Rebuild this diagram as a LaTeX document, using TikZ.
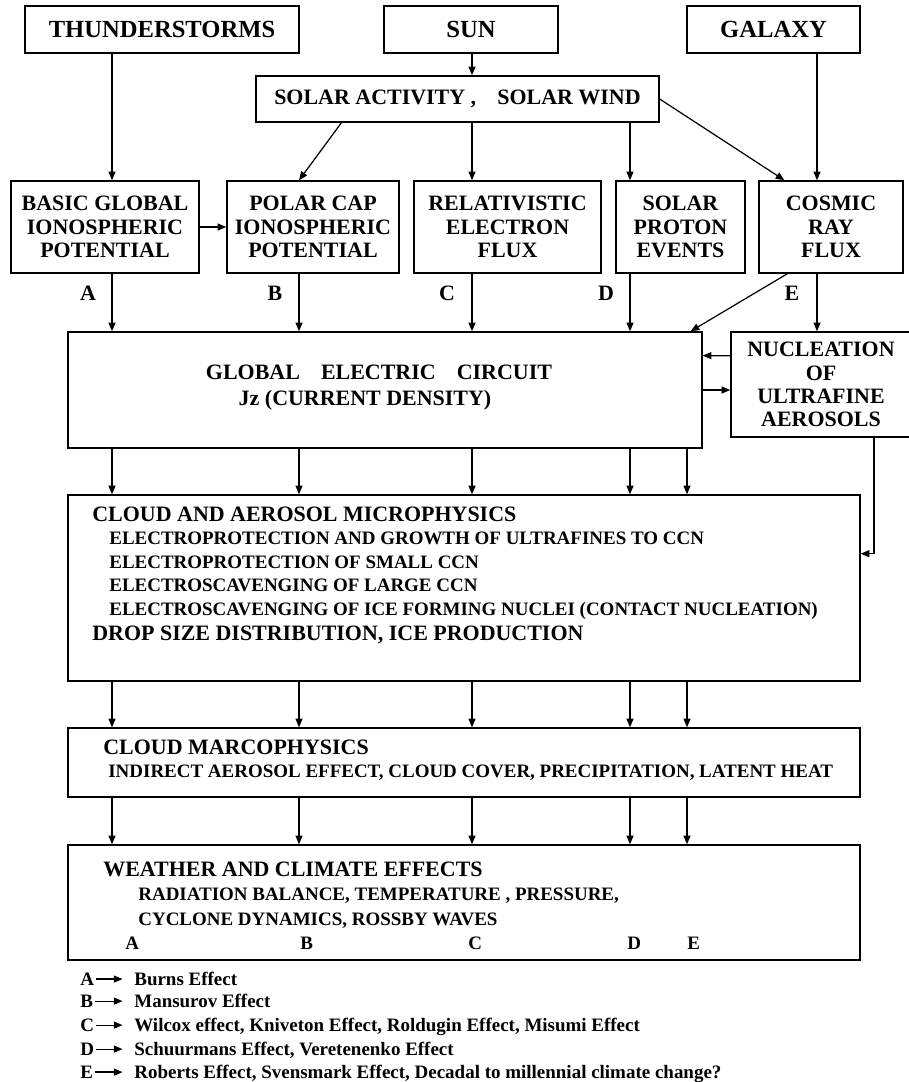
\documentclass[tikz,border=0pt]{standalone}
\usepackage{fontspec}
\setmainfont{Liberation Serif}
\usetikzlibrary{calc, arrows.meta, positioning}

\newcommand{\topfont}{\fontsize{14}{16}\selectfont\bfseries}
\newcommand{\boxfont}{\fontsize{12.5}{13.2}\selectfont\bfseries}
\newcommand{\subfont}{\fontsize{10.8}{12}\selectfont\bfseries}

\tikzset{
  box/.style={draw, line width=0.8pt, inner sep=0pt, align=center, font=\boxfont},
  arr/.style={-{Triangle[length=5pt,width=4pt]}, line width=0.7pt},
  head/.style={anchor=base west, inner sep=0pt, font=\boxfont},
  sub/.style={anchor=base west, inner sep=0pt, font=\subfont},
  letter/.style={inner sep=0pt, font=\boxfont},
  legletter/.style={anchor=base west, inner sep=0pt, font=\subfont},
  legtext/.style={anchor=base west, inner sep=0pt, font=\subfont}
}

\begin{document}
\begin{tikzpicture}[x=0.02cm, y=-0.02cm]
\useasboundingbox (0,0) rectangle (909,1082);

% columns of the arrows
\coordinate (colA) at (112,0);
\coordinate (colB) at (299,0);
\coordinate (colC) at (472,0);
\coordinate (colD) at (630,0);
\coordinate (colE) at (687,0);
\coordinate (colG) at (817,0);
\coordinate (colN) at (874,0);

% sources
\node[box, font=\topfont, minimum width=5.48cm, minimum height=0.94cm] (thunder) at (162,29.5) {THUNDERSTORMS};
\node[box, font=\topfont, minimum width=3.48cm, minimum height=0.94cm] (sun) at (471,29.5) {SUN};
\node[box, font=\topfont, minimum width=3.46cm, minimum height=0.94cm] (galaxy) at (773.5,29.5) {GALAXY};
\node[box, minimum width=8.06cm, minimum height=0.92cm] (solar) at (457.5,99) {SOLAR ACTIVITY ,\hspace{12pt}SOLAR WIND};

% second row
\node[box, minimum width=3.76cm, minimum height=1.84cm] (basic) at (105,227) {BASIC GLOBAL\\IONOSPHERIC\\POTENTIAL};
\node[box, minimum width=3.44cm, minimum height=1.84cm] (polar) at (313,227) {POLAR CAP\\IONOSPHERIC\\POTENTIAL};
\node[box, minimum width=3.74cm, minimum height=1.84cm] (rel) at (507.5,227) {RELATIVISTIC\\ELECTRON\\FLUX};
\node[box, minimum width=2.58cm, minimum height=1.84cm] (proton) at (680.5,227) {SOLAR\\PROTON\\EVENTS};
\node[box, minimum width=2.88cm, minimum height=1.84cm] (cosmic) at (831,227) {COSMIC\\RAY\\FLUX};

\node[letter] (lA) at (88,293) {A};
\node[letter] (lB) at (275,293) {B};
\node[letter] (lC) at (447,293) {C};
\node[letter] (lD) at (606,293) {D};
\node[letter] (lE) at (792,293) {E};

% circuit
\node[box, minimum width=12.68cm, minimum height=2.32cm] (gec) at (385,390) {};
\node[letter] (gectop) at (379,372) {GLOBAL\hspace{12pt}ELECTRIC\hspace{12pt}CIRCUIT};
\node[letter] (gecbot) at (365,400) {Jz (CURRENT DENSITY)};
\node[box, minimum width=3.6cm, minimum height=2.1cm] (nucl) at (821,384.5) {NUCLEATION\\OF\\ULTRAFINE\\AEROSOLS};

% microphysics
\node[box, minimum width=15.84cm, minimum height=3.72cm] (cloud) at (464,588) {};
\node[head] (cloudhd) at (92,521.3) {CLOUD AND AEROSOL MICROPHYSICS};
\node[sub] (cloud1) at (109,544.3) {ELECTROPROTECTION AND GROWTH OF ULTRAFINES TO CCN};
\node[sub] (cloud2) at (109,568.3) {ELECTROPROTECTION OF SMALL CCN};
\node[sub] (cloud3) at (109,591.3) {ELECTROSCAVENGING OF LARGE CCN};
\node[sub] (cloud4) at (109,615.3) {ELECTROSCAVENGING OF ICE FORMING NUCLEI (CONTACT NUCLEATION)};
\node[head] (drop) at (92,640.3) {DROP SIZE DISTRIBUTION, ICE PRODUCTION};

% macrophysics
\node[box, minimum width=15.84cm, minimum height=1.38cm] (macro) at (464,762.5) {};
\node[head] (macrohd) at (103,754.3) {CLOUD MARCOPHYSICS};
\node[sub] (macro1) at (108,777.3) {INDIRECT AEROSOL EFFECT, CLOUD COVER, PRECIPITATION, LATENT HEAT};

% weather
\node[box, minimum width=15.84cm, minimum height=2.30cm] (weather) at (464,902.5) {};
\node[head] (weatherhd) at (103,876.3) {WEATHER AND CLIMATE EFFECTS};
\node[sub] (weather1) at (138,900.3) {RADIATION BALANCE, TEMPERATURE , PRESSURE,};
\node[sub] (weather2) at (138,925.3) {CYCLONE DYNAMICS, ROSSBY WAVES};
\node[sub] (wA) at (125,949) {A};
\node[sub] (wB) at (300,949) {B};
\node[sub] (wC) at (468,949) {C};
\node[sub] (wD) at (627,949) {D};
\node[sub] (wE) at (687,949) {E};

% legend
\node[legletter] (keyA) at (80,985.3) {A};
\node[legletter] (keyB) at (80,1007.3) {B};
\node[legletter] (keyC) at (80,1031.3) {C};
\node[legletter] (keyD) at (80,1055.3) {D};
\node[legletter] (keyE) at (80,1078.3) {E};
\node[legtext] (effA) at (134,985.3) {Burns Effect};
\node[legtext] (effB) at (134,1007.3) {Mansurov Effect};
\node[legtext] (effC) at (134,1031.3) {Wilcox effect, Kniveton Effect, Roldugin Effect, Misumi Effect};
\node[legtext] (effD) at (134,1055.3) {Schuurmans Effect, Veretenenko Effect};
\node[legtext] (effE) at (134,1078.3) {Roberts Effect, Svensmark Effect, Decadal to millennial climate change?};
\foreach \k in {A,B,C,D,E}
  \draw[arr, shorten <=1pt, shorten >=6.5pt] (key\k.east) -- (key\k.east -| eff\k.west);

% arrows at the top
\draw[arr] (thunder.south -| colA) -- (basic.north -| colA);
\draw[arr] (sun.south -| colC) -- (solar.north -| colC);
\draw[arr] (galaxy.south -| colG) -- (cosmic.north -| colG);
\draw[arr] ($(solar.south west)!0.213!(solar.south east)$) -- (polar.north -| colB);
\draw[arr] (solar.south -| colC) -- (rel.north -| colC);
\draw[arr] (solar.south -| colD) -- (proton.north -| colD);
\draw[arr] (solar.east) -- ($(cosmic.north west)!0.18!(cosmic.north east)$);
\draw[arr] (basic.east) -- (polar.west);

% into the circuit
\draw[arr] (basic.south -| colA) -- (gec.north -| colA);
\draw[arr] (polar.south -| colB) -- (gec.north -| colB);
\draw[arr] (rel.south -| colC) -- (gec.north -| colC);
\draw[arr] (proton.south -| colD) -- (gec.north -| colD);
\draw[arr] ($(cosmic.south west)!0.2!(cosmic.south east)$) -- ($(gec.north west)!0.981!(gec.north east)$);
\draw[arr] (cosmic.south -| colG) -- (nucl.north -| colG);
\draw[arr] ($(nucl.north west)!0.23!(nucl.south west)$) -- ($(gec.north east)!0.207!(gec.south east)$);
\draw[arr] (gec.east) -- (gec.east -| nucl.west);
\draw[arr] (nucl.south -| colN) |- ($(cloud.north east)!0.317!(cloud.south east)$);

% down the chain
\foreach \c in {colA,colB,colC,colD,colE} {
  \draw[arr] (gec.south -| \c) -- (cloud.north -| \c);
  \draw[arr] (cloud.south -| \c) -- (macro.north -| \c);
  \draw[arr] (macro.south -| \c) -- (weather.north -| \c);
}
\end{tikzpicture}
\end{document}
